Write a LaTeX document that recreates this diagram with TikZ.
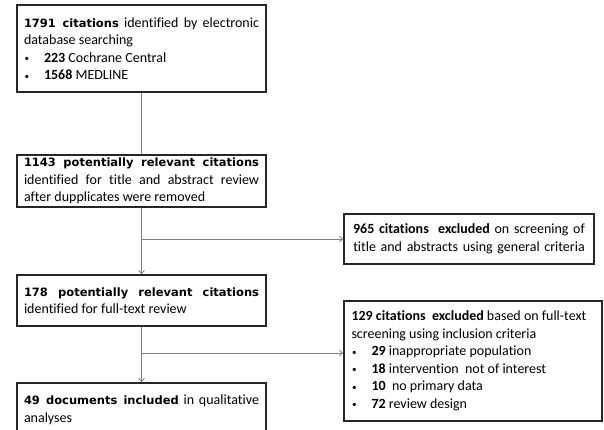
\documentclass[tikz,border=0pt]{standalone}
\usepackage{fontspec}
\setmainfont{Carlito}[Ligatures=NoCommon]
\newfontfamily\vfont[Scale=0.82]{DejaVu Sans}
\usetikzlibrary{arrows.meta}
\newcommand\vb[1]{{\vfont\bfseries #1}}
\newcommand\bul{\par\noindent\makebox[20pt][l]{\hspace{0.5pt}\raisebox{0.5pt}{\scalebox{0.65}{•}}}}
\newcommand\nohy{\hyphenpenalty=10000\relax\exhyphenpenalty=10000\relax\tolerance=10000\relax\hbadness=10000\relax\hfuzz=30pt\relax}
\tikzset{
  box/.style={draw=black!85, line width=1.6pt, fill=white, inner xsep=7pt, inner ysep=0pt,
    font=\fontsize{14}{17.5}\selectfont\nohy},
  lbox/.style={box, text width=235pt, align=justify},
  conn/.style={draw=black!50, line width=0.8pt},
  arr/.style={conn, -{Straight Barb[length=3.5pt,width=6pt]}}
}
\begin{document}
\begin{tikzpicture}[x=1pt,y=-1pt]
\useasboundingbox (0,0) rectangle (604,429);
\clip (0,0) rectangle (604,429);
\node[lbox, minimum height=87pt] (b1) at (141.5,48.5)
  {\noindent\vb{1791 citations} identified by electronic\linebreak database searching
   \bul\textbf{223} Cochrane Central
   \bul\textbf{1568} MEDLINE};
\node[lbox, minimum height=52pt] (b2) at (141.5,181)
  {\noindent\vb{1143 potentially relevant citations}\linebreak identified for title and abstract review\linebreak after dupplicates were removed};
\node[lbox, minimum height=51pt] (b4) at (141.5,300.5)
  {\noindent\vb{178 potentially relevant citations}\linebreak identified for full-text review};
\node[lbox, minimum height=54pt] (b5) at (141.5,410)
  {\noindent\vb{49 documents included} in qualitative\linebreak analyses\par\vspace{2pt}};
\node[box, text width=240pt, inner xsep=5pt, align=center, minimum height=50pt] (b3) at (469,239)
  {\textbf{965 citations\ \ excluded} on screening of\\ title and abstracts using general criteria};
\node[box, text width=243pt, inner xsep=7.5pt, align=justify, minimum height=120pt] (b6) at (473,361)
  {\noindent\textbf{129 citations\ \ excluded} based on full-text\par
   \noindent screening using inclusion criteria
   \bul\textbf{29} inappropriate population
   \bul\textbf{18} intervention\ \ not of interest
   \bul\textbf{10}\ \ no primary data
   \bul\textbf{72} review design};
\draw[conn] (b1.south) -- (b2.north);
\draw[arr] (b2.south) -- (b4.north);
\draw[arr] (b4.south) -- (b5.north);
\coordinate (j1) at (b2.south |- b3.west);
\coordinate (j2) at (141.5,353);
\draw[arr] (j1) -- (b3.west);
\draw[arr] (j2) -- (b6.west |- j2);
\end{tikzpicture}
\end{document}
